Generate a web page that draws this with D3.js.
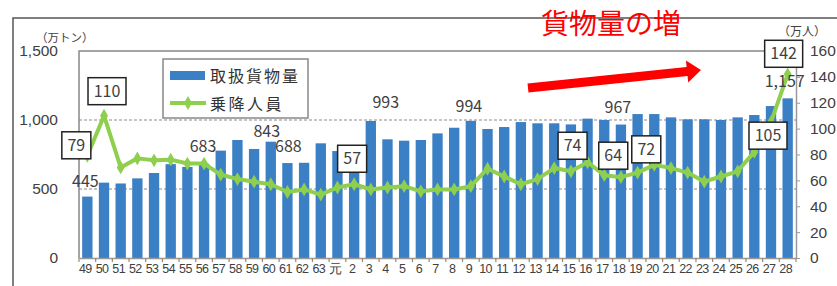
<!DOCTYPE html>
<html>
<head>
<meta charset="utf-8">
<script src="https://d3js.org/d3.v7.min.js"></script>
<style>
	body { margin: 0; background: #fff; }
	svg { display: block; font-family: 'Noto Sans CJK JP', 'Noto Sans', sans-serif; }
	.tick text { fill: #404040; }
</style>
</head>
<body>
<div id="chart"></div>
<script>
	// Fiscal years (Showa 49 .. 63, Heisei 元 .. 28).
	const years = ['49','50','51','52','53','54','55','56','57','58','59','60','61','62','63',
		'元','2','3','4','5','6','7','8','9','10','11','12','13','14','15','16','17','18','19',
		'20','21','22','23','24','25','26','27','28'];
	// Cargo handled (10k tons).
	const cargo = [445,546,540,577,616,680,660,683,778,855,790,843,688,690,831,
		775,810,993,860,850,855,903,944,994,935,949,985,976,976,968,1010,1000,967,1043,
		1043,1019,1005,1005,1000,1019,1036,1101,1157];
	// Passengers (10k persons).
	const passengers = [79,110,70,77,75.5,76,73,73,64.5,61,59,57,51,53,49,
		54.5,57,53,54.5,55.5,51.5,53,53,55.5,69,63,57,61,69.5,67,74,64,62.5,66,
		72,69.5,66,59,63,67,82,105,142];
	const leftTicks = [0, 500, 1000, 1500];
	const rightTicks = [0, 20, 40, 60, 80, 100, 120, 140, 160];
	// Which points carry a value label, and where it sits relative to the mark.
	const cargoLabels = [
		{i: 0, dx: -2, dy: -10}, {i: 7, dx: -1, dy: -12}, {i: 11, dx: -4, dy: -5},
		{i: 12, dx: 1, dy: -11}, {i: 17, dx: 15, dy: -13}, {i: 23, dx: -2, dy: -9},
		{i: 32, dx: -3, dy: -12}, {i: 42, dx: -3, dy: -11}
	];
	const paxLabels = [
		{i: 0, dx: -11, dy: -11}, {i: 1, dx: 3, dy: -25}, {i: 16, dx: -2, dy: -26},
		{i: 30, dx: -15, dy: -17}, {i: 31, dx: 9, dy: -20}, {i: 34, dx: -8, dy: -16},
		{i: 41, dx: -3, dy: 13}, {i: 42, dx: -4, dy: -21}
	];

	const W = 837, H = 286;
	const plot = {left: 79, right: 796, top: 51, bottom: 258};
	const blue = '#3b7fc5';
	const green = '#8fcf4e';

	const svg = d3.select('#chart').append('svg')
		.attr('width', W).attr('height', H);

	// Outer frame.
	svg.append('rect')
		.attr('x', 13).attr('y', 18).attr('width', W).attr('height', H)
		.attr('fill', 'none').attr('stroke', '#555').attr('stroke-width', 1.5);

	const x = d3.scaleBand().domain(years)
		.range([plot.left, plot.right])
		.paddingInner(0.38).paddingOuter(0.19);
	const yL = d3.scaleLinear().domain([0, 1500]).range([plot.bottom, plot.top]);
	const yR = d3.scaleLinear().domain([0, 160]).range([plot.bottom, plot.top]);
	const cx = (d, i) => x(years[i]) + x.bandwidth() / 2;

	// Gridlines.
	svg.append('g').selectAll('line').data([500, 1000]).join('line')
		.attr('x1', plot.left).attr('x2', plot.right)
		.attr('y1', d => yL(d)).attr('y2', d => yL(d))
		.attr('stroke', '#8a8a8a').attr('stroke-width', 1.2).attr('stroke-dasharray', '3,2');

	// Plot area border (top and left).
	svg.append('path')
		.attr('d', `M${plot.left},${plot.bottom}V${plot.top}H${plot.right}`)
		.attr('fill', 'none').attr('stroke', '#888').attr('stroke-width', 1.5);

	// Bars.
	svg.append('g').selectAll('rect').data(cargo).join('rect')
		.attr('x', (d, i) => x(years[i]))
		.attr('width', x.bandwidth())
		.attr('y', d => yL(d))
		.attr('height', d => yL(0) - yL(d))
		.attr('fill', blue);

	// Left axis.
	const axL = svg.append('g')
		.attr('transform', `translate(${plot.left},0)`)
		.call(d3.axisLeft(yL).tickValues(leftTicks).tickSize(0).tickPadding(21).tickFormat(d3.format(',')));
	axL.select('.domain').remove();
	axL.selectAll('text').attr('font-size', 15.5);

	// Right axis.
	const axR = svg.append('g')
		.attr('transform', `translate(${plot.right},0)`)
		.call(d3.axisRight(yR).tickValues(rightTicks).tickSize(4).tickPadding(10).tickSizeOuter(0));
	axR.select('.domain').attr('stroke', '#999').attr('stroke-width', 1.5);
	axR.selectAll('.tick line').attr('stroke', '#999');
	axR.selectAll('text').attr('font-size', 15.5);

	// Bottom axis.
	const axB = svg.append('g')
		.attr('transform', `translate(0,${plot.bottom})`)
		.call(d3.axisBottom(x).tickSize(0).tickPadding(6).tickSizeOuter(0));
	axB.select('.domain').attr('stroke', '#999').attr('stroke-width', 1.5);
	axB.selectAll('text').attr('font-size', 12.5).attr('letter-spacing', -0.6).attr('dx', -2);
	// Excel style ticks between categories.
	const gap = x.step() * x.paddingInner() / 2;
	svg.append('g').selectAll('line').data(years.concat(['end'])).join('line')
		.attr('x1', (d, i) => i < years.length ? x(d) - gap : x(years[years.length - 1]) + x.bandwidth() + gap)
		.attr('x2', (d, i) => i < years.length ? x(d) - gap : x(years[years.length - 1]) + x.bandwidth() + gap)
		.attr('y1', plot.bottom).attr('y2', plot.bottom + 4)
		.attr('stroke', '#9a8870').attr('stroke-width', 1.2);

	// Passenger line with diamond markers.
	const line = d3.line().x((d, i) => cx(d, i)).y(d => yR(d));
	svg.append('path').datum(passengers)
		.attr('d', line)
		.attr('fill', 'none').attr('stroke', green).attr('stroke-width', 4)
		.attr('stroke-linejoin', 'round');
	svg.append('g').selectAll('path').data(passengers).join('path')
		.attr('d', d3.symbol(d3.symbolDiamond, 55))
		.attr('transform', (d, i) => `translate(${cx(d, i)},${yR(d)})`)
		.attr('fill', green);

	// Cargo value labels.
	svg.append('g').selectAll('text').data(cargoLabels).join('text')
		.attr('x', d => cx(null, d.i) + d.dx)
		.attr('y', d => yL(cargo[d.i]) + d.dy)
		.attr('text-anchor', 'middle')
		.attr('font-size', 16).attr('fill', '#404040')
		.text(d => d3.format(',')(cargo[d.i]));

	// Passenger value labels in boxes.
	const boxes = svg.append('g').selectAll('g').data(paxLabels).join('g')
		.attr('transform', d => `translate(${cx(null, d.i) + d.dx},${yR(passengers[d.i]) + d.dy})`);
	boxes.append('rect')
		.attr('x', d => String(passengers[d.i]).length > 2 ? -19 : -14.5)
		.attr('width', d => String(passengers[d.i]).length > 2 ? 38 : 29)
		.attr('y', -13).attr('height', 27)
		.attr('fill', '#fff').attr('stroke', '#222').attr('stroke-width', 1.5);
	boxes.append('text')
		.attr('text-anchor', 'middle').attr('dy', 6)
		.attr('font-size', 16).attr('fill', '#404040')
		.text(d => passengers[d.i]);

	// Unit labels.
	svg.append('text').attr('x', 36).attr('y', 42).attr('font-size', 11.5)
		.attr('fill', '#404040').text('（万トン）');
	svg.append('text').attr('x', 778).attr('y', 36).attr('font-size', 12)
		.attr('fill', '#404040').text('（万人）');

	// Legend.
	const lg = svg.append('g');
	lg.append('rect').attr('x', 163).attr('y', 59).attr('width', 145).attr('height', 59)
		.attr('fill', '#fff').attr('stroke', '#888').attr('stroke-width', 1.5);
	lg.append('rect').attr('x', 170).attr('y', 71).attr('width', 35).attr('height', 9).attr('fill', blue);
	lg.append('line').attr('x1', 170).attr('x2', 206).attr('y1', 103).attr('y2', 103)
		.attr('stroke', green).attr('stroke-width', 4);
	lg.append('path').attr('d', d3.symbol(d3.symbolDiamond, 55))
		.attr('transform', 'translate(188,103)').attr('fill', green);
	lg.append('text').attr('x', 210).attr('y', 82).attr('font-size', 16)
		.attr('letter-spacing', 2).attr('fill', '#333').text('取扱貨物量');
	lg.append('text').attr('x', 210).attr('y', 110).attr('font-size', 16)
		.attr('letter-spacing', 2.5).attr('fill', '#333').text('乗降人員');

	// Red annotation.
	svg.append('text').attr('x', 541).attr('y', 34).attr('font-size', 28)
		.attr('fill', '#ff0000').text('貨物量の増');
	const a0 = [528, 88], a1 = [701, 70];
	const ang = Math.atan2(a1[1] - a0[1], a1[0] - a0[0]);
	const headLen = 14, headW = 11, shaftW = 4.5;
	const rot = (l, w) => [a1[0] - l * Math.cos(ang) - w * Math.sin(ang), a1[1] - l * Math.sin(ang) + w * Math.cos(ang)];
	const pts = [
		[a0[0] - shaftW * Math.sin(ang), a0[1] + shaftW * Math.cos(ang)],
		rot(headLen, shaftW), rot(headLen, headW), a1, rot(headLen, -headW), rot(headLen, -shaftW),
		[a0[0] + shaftW * Math.sin(ang), a0[1] - shaftW * Math.cos(ang)]
	];
	svg.append('polygon').attr('points', pts.map(p => p.join(',')).join(' ')).attr('fill', '#ff0000');
</script>
</body>
</html>
